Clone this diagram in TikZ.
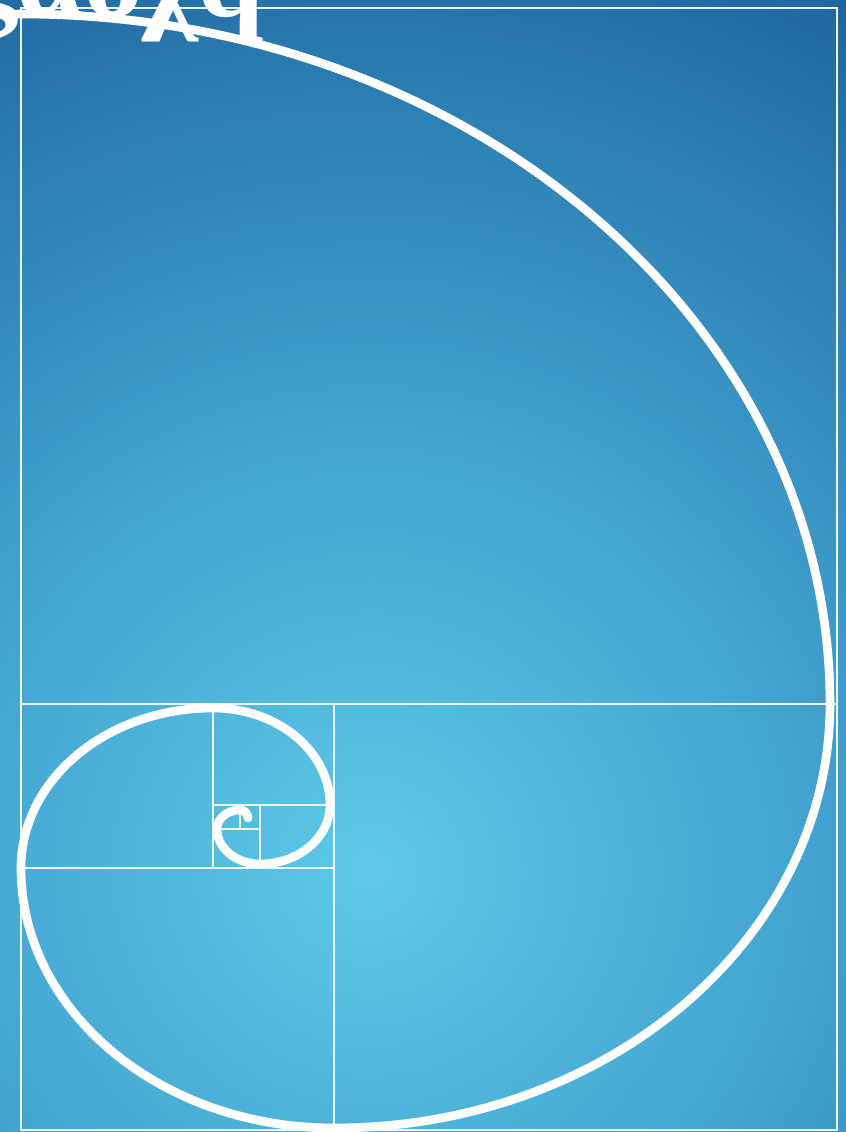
\documentclass[tikz,border=0pt]{standalone}
\usepackage{fontspec}
\newfontfamily\titlefont{Liberation Serif}
\definecolor{bgA}{RGB}{93,201,231}
\definecolor{bgB}{RGB}{68,165,210}
\definecolor{bgC}{RGB}{36,112,168}
\definecolor{bgD}{RGB}{30,100,158}
\definecolor{linecol}{RGB}{235,246,252}
\pgfdeclareradialshading{bgshade}{\pgfpoint{0bp}{0bp}}{color(0bp)=(bgA); color(10.5bp)=(bgB); color(22.5bp)=(bgC); color(25bp)=(bgD); color(50bp)=(bgD)}
\tikzset{
  thinline/.style={draw=linecol, line width=1.5pt},
  spiralline/.style={draw=white, line width=6.5pt, line cap=round, line join=round},
  titletext/.style={font=\titlefont\bfseries\fontsize{90}{90}\selectfont, text=white, anchor=base west, inner sep=0pt}
}
\begin{document}
\begin{tikzpicture}[x=0.75pt,y=0.75pt]
\useasboundingbox (0,0) rectangle (846,1132);
\clip (0,0) rectangle (846,1132);
\begin{scope}[shift={(0,1132)}, yscale=-1]
\shade[shading=bgshade] (370,870) circle[radius=1000];
% named corners
\coordinate (tl) at (21,8);
\coordinate (br) at (837,1130);
\coordinate (h1l) at (21,704);
\coordinate (h1r) at (837,704);
\coordinate (v1t) at (334,704);
\coordinate (v1b) at (334,1130);
\coordinate (h2l) at (21,868);
\coordinate (h2r) at (334,868);
\coordinate (v2t) at (213,704);
\coordinate (v2b) at (213,868);
\coordinate (h3l) at (213,805);
\coordinate (h3r) at (334,805);
\coordinate (v3t) at (260,805);
\coordinate (v3b) at (260,868);
\coordinate (h4l) at (213,829);
\coordinate (h4r) at (260,829);
\coordinate (v4t) at (240,805);
\coordinate (v4b) at (240,829);
% grid of rectangles
\draw[thinline] (tl) rectangle (br);
\draw[thinline] (h1l) -- (h1r);
\draw[thinline] (v1t) -- (v1b);
\draw[thinline] (h2l) -- (h2r);
\draw[thinline] (v2t) -- (v2b);
\draw[thinline] (h3l) -- (h3r);
\draw[thinline] (v3t) -- (v3b);
\draw[thinline] (h4l) -- (h4r);
\draw[thinline] (v4t) -- (v4b);
% spiral
\coordinate (s0) at (-10,15);
\coordinate (s1) at (21,14);
\draw[spiralline] (s0) -- (s1)
  arc[start angle=270, end angle=360, x radius=809, y radius=690]
  arc[start angle=0, end angle=90, x radius=496, y radius=424]
  arc[start angle=90, end angle=180, x radius=313, y radius=260]
  arc[start angle=180, end angle=270, x radius=192, y radius=160]
  arc[start angle=270, end angle=360, x radius=117, y radius=97]
  arc[start angle=0, end angle=90, x radius=70, y radius=59]
  arc[start angle=90, end angle=180, x radius=43, y radius=35]
  arc[start angle=180, end angle=270, x radius=23, y radius=19]
  arc[start angle=270, end angle=360, x radius=8, y radius=8];
\end{scope}
% title (cropped at top)
\node[titletext] (title) at (-34,1115) {ςαοχq};
\end{tikzpicture}
\end{document}
